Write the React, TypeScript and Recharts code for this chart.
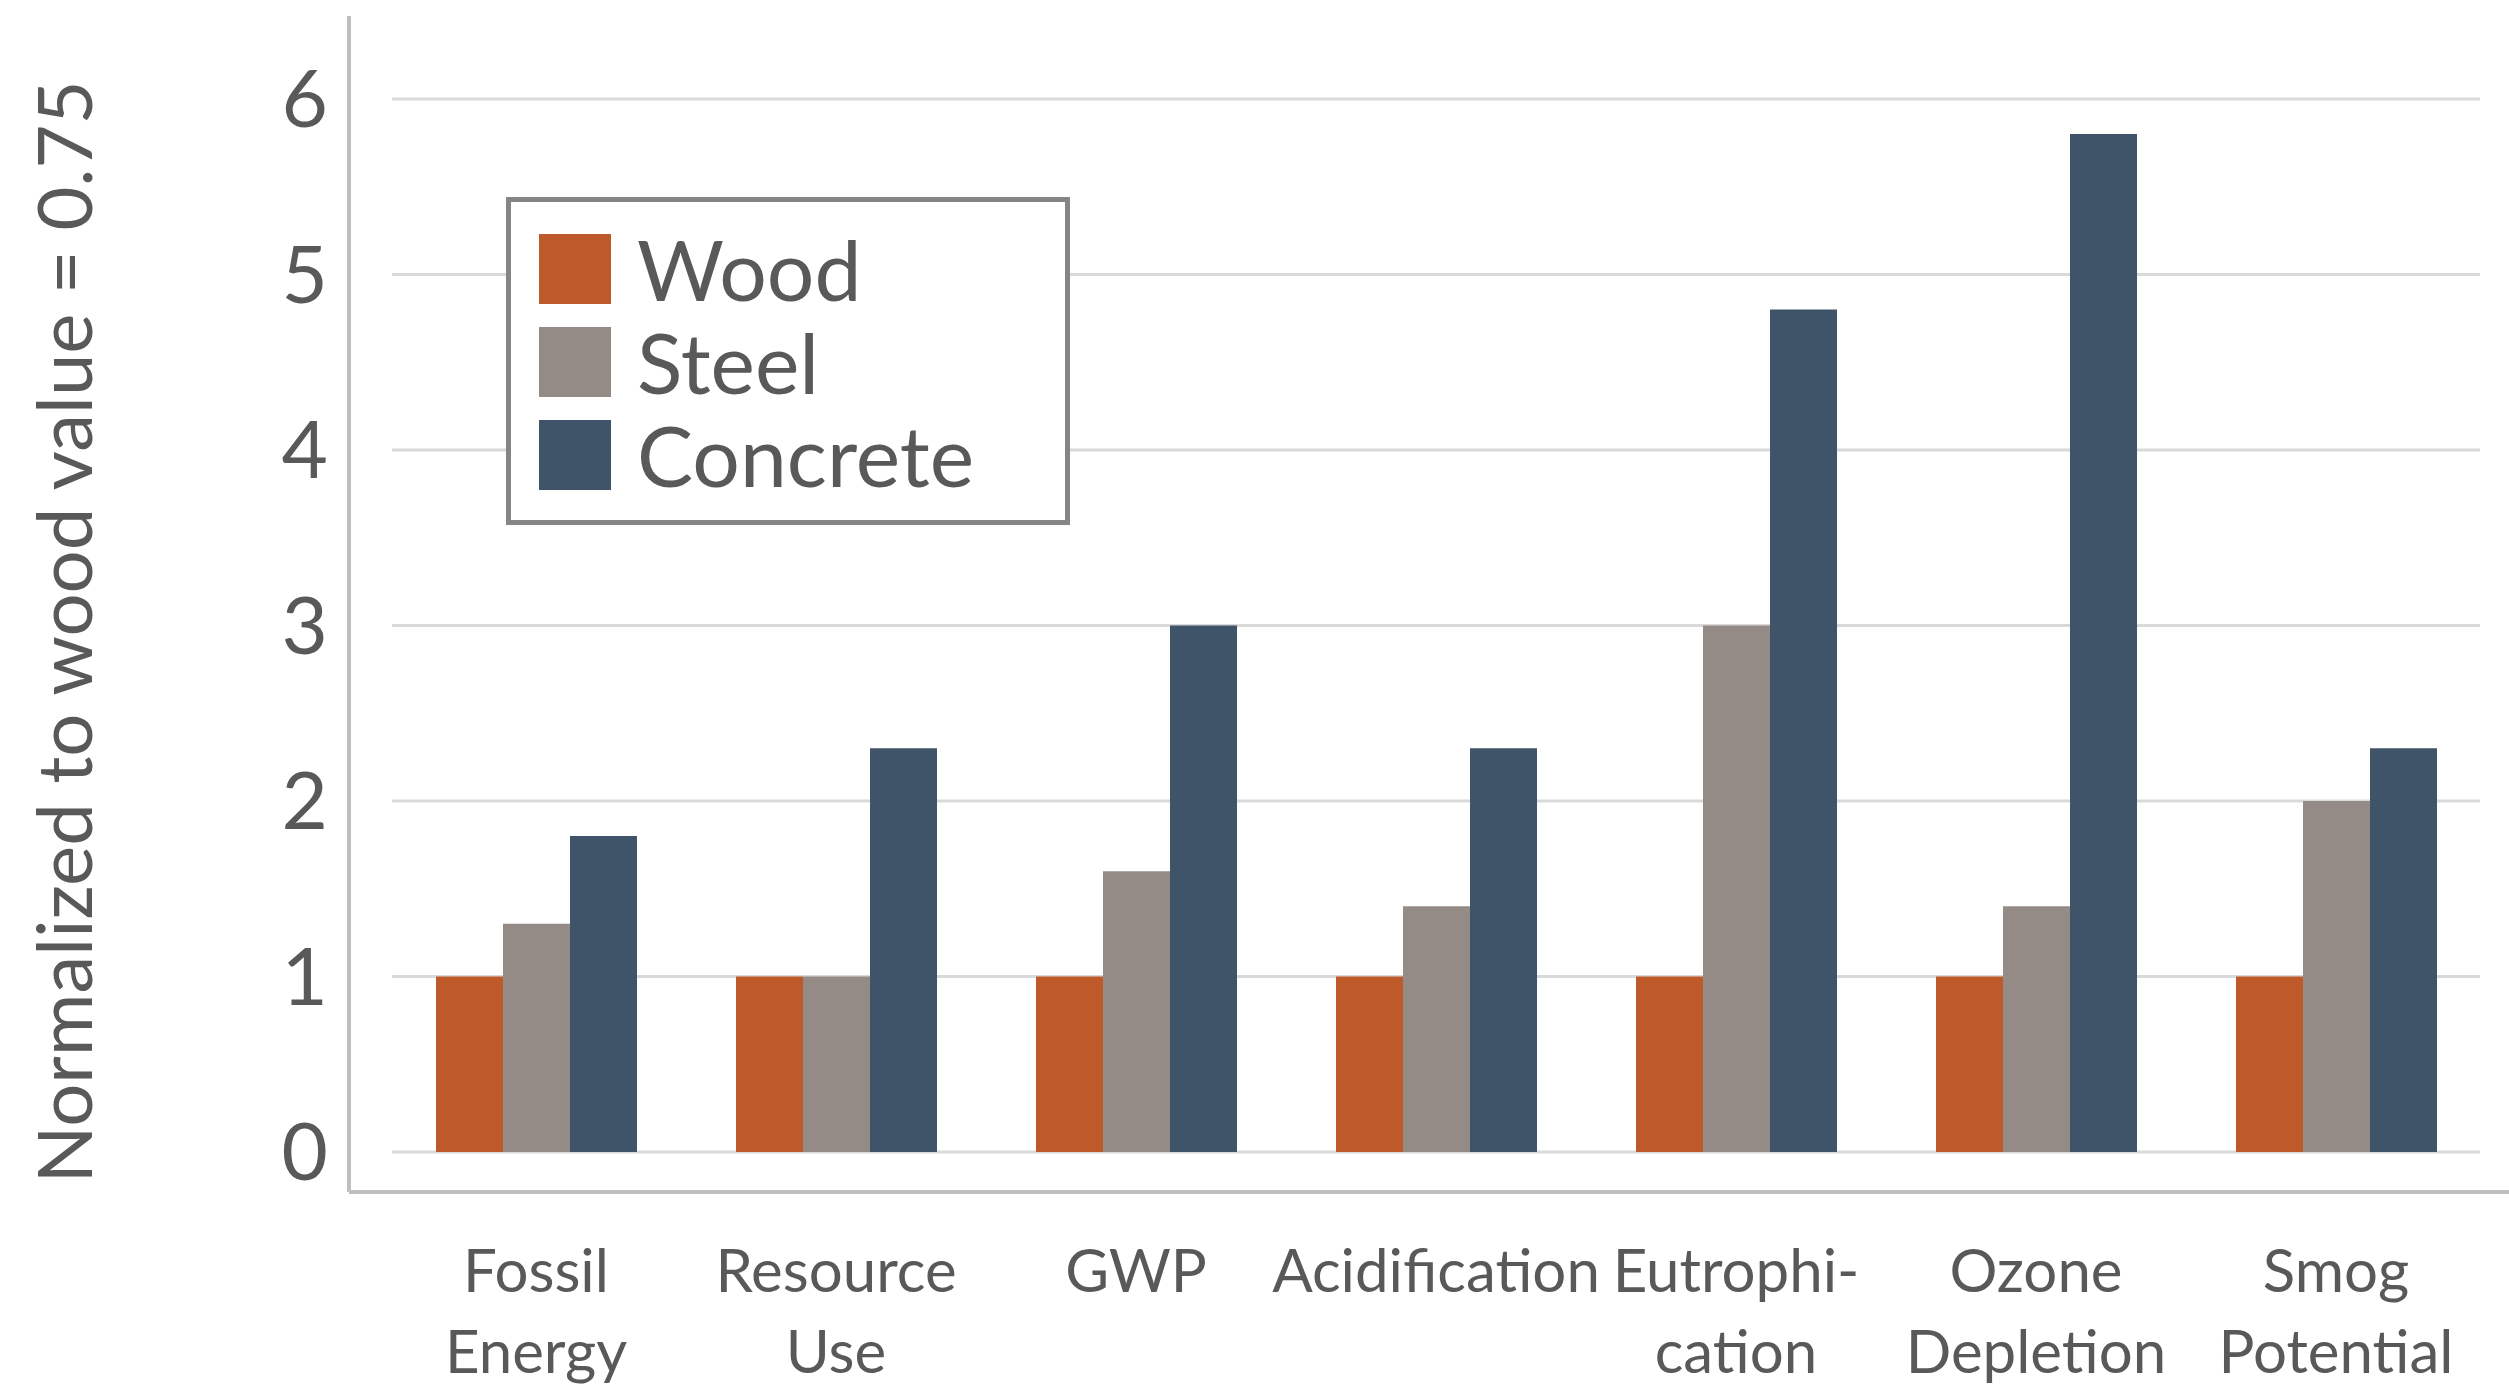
import React from 'react';
import { BarChart, Bar, XAxis, YAxis, CartesianGrid, Legend } from 'recharts';

const categories = ['Fossil Energy', 'Resource Use', 'GWP', 'Acidification', 'Eutrophication', 'Ozone Depletion', 'Smog Potential'];
const categoryLabelLines = [
  ['Fossil', 'Energy'],
  ['Resource', 'Use'],
  ['GWP'],
  ['Acidification'],
  ['Eutrophi-', 'cation'],
  ['Ozone', 'Depletion'],
  ['Smog', 'Potential'],
];
const woodValues = [1, 1, 1, 1, 1, 1, 1];
const steelValues = [1.3, 1.0, 1.6, 1.4, 3.0, 1.4, 2.0];
const concreteValues = [1.8, 2.3, 3.0, 2.3, 4.8, 5.8, 2.3];
const yTicks = [0, 1, 2, 3, 4, 5, 6];
const seriesNames = ['Wood', 'Steel', 'Concrete'];
const yAxisTitle = 'Normalized to wood value = 0.75';

const COLORS = { wood: '#BE5A2A', steel: '#958B86', concrete: '#3F5468' };
const TEXT = '#595959';
const FONT = 'Lato, "Open Sans", sans-serif';

const data = categories.map((c, i) => ({
  category: c,
  wood: woodValues[i],
  steel: steelValues[i],
  concrete: concreteValues[i],
}));

const XTick = (props: any) => {
  const { x, y, payload } = props;
  const idx = categories.indexOf(payload.value);
  const lines = idx >= 0 ? categoryLabelLines[idx] : [String(payload.value)];
  return (
    <text x={x} y={y} textAnchor="middle" fill={TEXT} fontSize={60} fontFamily={FONT}>
      {lines.map((l, i) => (
        <tspan key={i} x={x} dy={i === 0 ? 100 : 81}>
          {l}
        </tspan>
      ))}
    </text>
  );
};

const GridLine = (props: any) => {
  const { x1, x2, y1, y2, index } = props;
  const left = Math.min(x1, x2);
  const right = Math.max(x1, x2);
  return (
    <line
      key={`g-${index}-${y1}`}
      x1={left + 43}
      x2={right - 29}
      y1={y1}
      y2={y2}
      stroke="#D9D9D9"
      strokeWidth={3}
    />
  );
};

const YTitle = (props: any) => {
  const vb = props.viewBox || { x: 0, y: 0, width: 0, height: 0 };
  const cx = vb.x + 62;
  const cy = vb.y + vb.height / 2 + 28;
  return (
    <text
      x={cx}
      y={cy}
      transform={`rotate(-90, ${cx}, ${cy})`}
      textAnchor="middle"
      dominantBaseline="central"
      fill={TEXT}
      fontSize={76}
      fontFamily={FONT}
    >
      {yAxisTitle}
    </text>
  );
};

const LegendBox = (props: any) => {
  const payload = [...(props.payload || [])].sort(
    (a: any, b: any) => seriesNames.indexOf(a.value) - seriesNames.indexOf(b.value)
  );
  return (
    <div
      style={{
        boxSizing: 'border-box',
        width: 564,
        height: 328,
        border: '5px solid #858585',
        background: '#ffffff',
        paddingTop: 20,
        paddingLeft: 28,
        fontFamily: FONT,
      }}
    >
      {payload.map((p: any, i: number) => (
        <div key={i} style={{ display: 'flex', alignItems: 'center', height: 93 }}>
          <div style={{ width: 72, height: 70, background: p.color, flex: '0 0 auto' }} />
          <span style={{ marginLeft: 26, fontSize: 84, color: TEXT, lineHeight: '93px' }}>{p.value}</span>
        </div>
      ))}
    </div>
  );
};

export default function App() {
  return (
    <div style={{ position: 'absolute', left: 0, top: 0, width: 2509, height: 1390, background: '#ffffff' }}>
      <BarChart
        width={2509}
        height={1390}
        data={data}
        margin={{ top: 16, right: 0, bottom: 0, left: 0 }}
        barCategoryGap="16.667%"
        barGap={0}
      >
        <CartesianGrid vertical={false} horizontal={GridLine as any} horizontalValues={yTicks} syncWithTicks />
        <XAxis
          dataKey="category"
          height={198}
          padding={{ left: 37, right: 23 }}
          axisLine={{ stroke: '#BFBFBF', strokeWidth: 4 }}
          tickLine={false}
          tickSize={0}
          tickMargin={0}
          interval={0}
          tick={<XTick />}
        />
        <YAxis
          width={349}
          domain={[-0.228, 6.473]}
          ticks={yTicks}
          allowDataOverflow
          axisLine={{ stroke: '#BFBFBF', strokeWidth: 4 }}
          tickLine={false}
          tickSize={0}
          tickMargin={21}
          tick={{ fill: TEXT, fontSize: 80, fontFamily: FONT }}
          label={<YTitle />}
        />
        <Legend
          layout="vertical"
          align="center"
          verticalAlign="middle"
          content={<LegendBox />}
          wrapperStyle={{ position: 'absolute', left: 506, top: 197, width: 564, height: 328 }}
        />
        <Bar dataKey="wood" name={seriesNames[0]} fill={COLORS.wood} isAnimationActive={false} />
        <Bar dataKey="steel" name={seriesNames[1]} fill={COLORS.steel} isAnimationActive={false} />
        <Bar dataKey="concrete" name={seriesNames[2]} fill={COLORS.concrete} isAnimationActive={false} />
      </BarChart>
    </div>
  );
}
